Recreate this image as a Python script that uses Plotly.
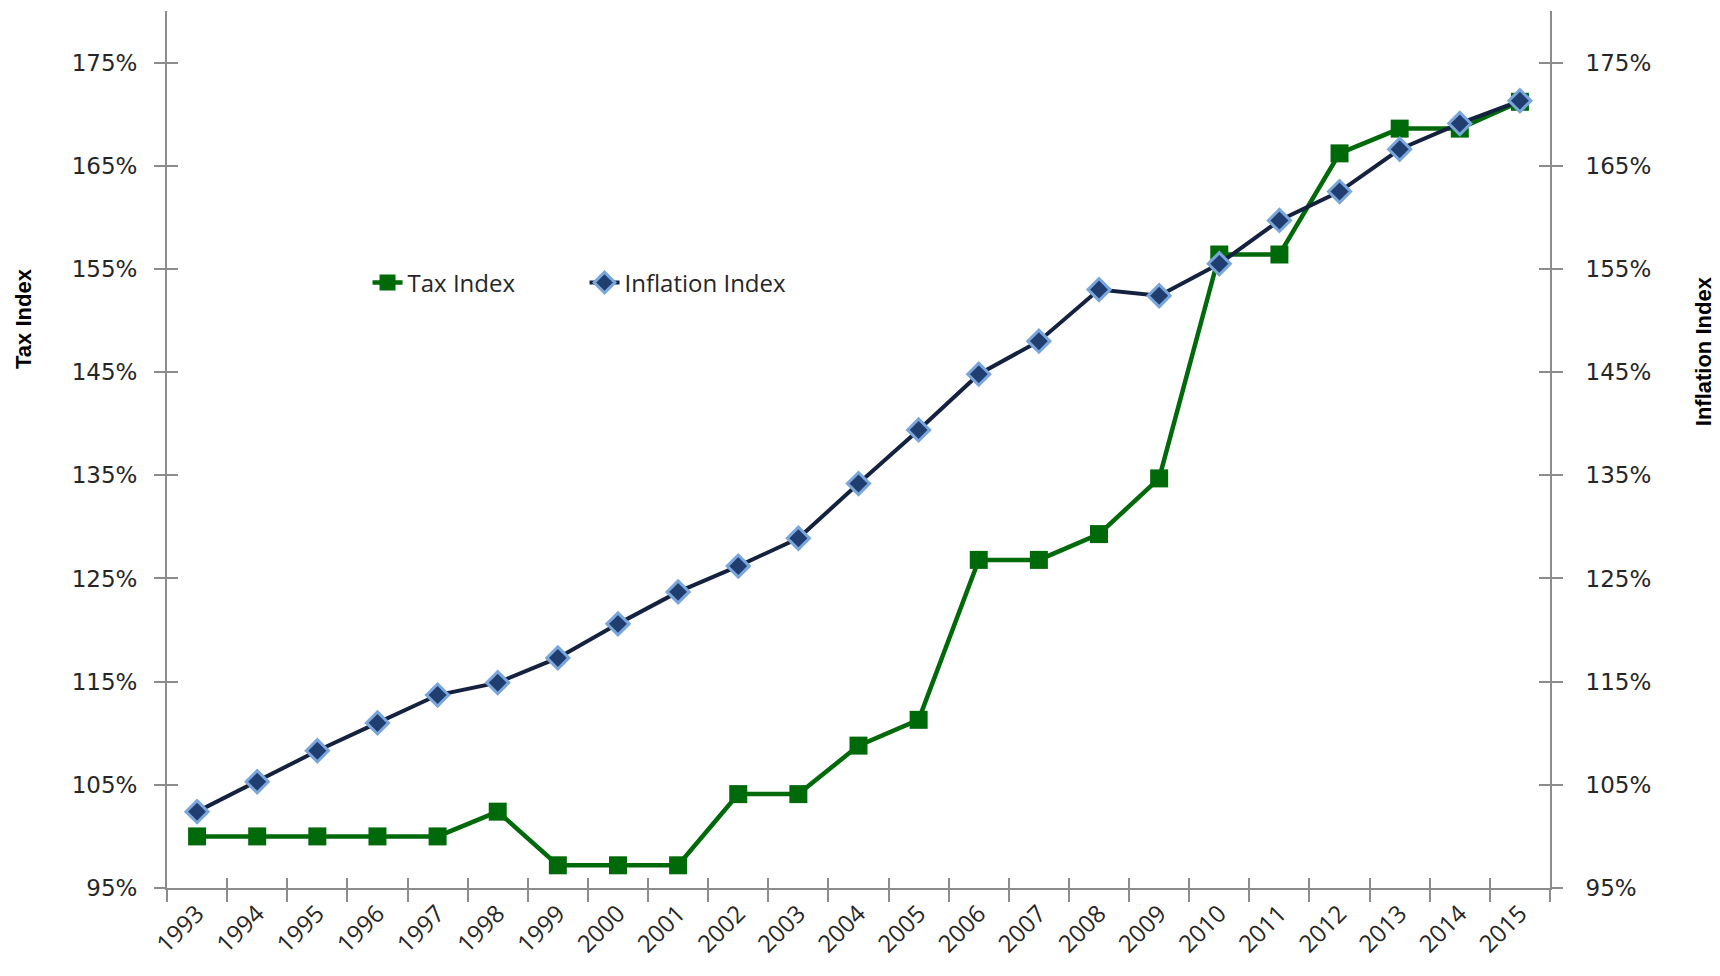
import plotly.graph_objects as go

# Index values (percent of 1992 base) by year
years = [str(y) for y in range(1993, 2016)]
tax_index = [100.0, 100.0, 100.0, 100.0, 100.0, 102.4, 97.2, 97.2, 97.2, 104.1,
             104.1, 108.8, 111.3, 126.8, 126.8, 129.3, 134.7, 156.4, 156.4, 166.2,
             168.6, 168.6, 171.2]
inflation_index = [102.4, 105.3, 108.3, 111.0, 113.7, 114.9, 117.3, 120.6, 123.7, 126.2,
                   128.9, 134.2, 139.4, 144.8, 148.0, 153.0, 152.4, 155.5, 159.7, 162.5,
                   166.6, 169.1, 171.3]
y_ticks = [95, 105, 115, 125, 135, 145, 155, 165, 175]
y_tick_labels = ["95%", "105%", "115%", "125%", "135%", "145%", "155%", "165%", "175%"]
y_range = [95, 180]

GREEN = "#006a0a"
NAVY = "#15223f"
AXIS_GREY = "#8c8c8c"
TEXT = "#262626"

fig = go.Figure()

fig.add_trace(go.Scatter(
    x=years, y=tax_index, name="Tax Index", mode="lines+markers",
    line=dict(color=GREEN, width=4.5),
    marker=dict(symbol="square", size=18, color=GREEN),
))
fig.add_trace(go.Scatter(
    x=years, y=inflation_index, name="Inflation Index", mode="lines+markers",
    yaxis="y2",
    line=dict(color=NAVY, width=4),
    marker=dict(symbol="diamond", size=17, color="#203f70",
                line=dict(color="#7aa6dc", width=3)),
))

# empty helper traces so the inner tick-mark axes get drawn
fig.add_trace(go.Scatter(x=[], y=[], xaxis="x2", yaxis="y3", showlegend=False,
                         hoverinfo="skip"))
fig.add_trace(go.Scatter(x=[], y=[], xaxis="x2", yaxis="y4", showlegend=False,
                         hoverinfo="skip"))

ytick_font = dict(family="DejaVu Sans, Verdana, sans-serif", size=23, color=TEXT)

common_y = dict(range=y_range, tickmode="array", tickvals=y_ticks,
                ticktext=y_tick_labels, showgrid=False,
                zeroline=False, tickcolor=AXIS_GREY, tickwidth=1.5)

fig.update_layout(
    width=1720, height=976,
    margin=dict(l=167, r=170, t=11, b=88),
    plot_bgcolor="white", paper_bgcolor="white",
    showlegend=True,
    legend=dict(orientation="h", x=0.145, y=0.69, xanchor="left", yanchor="middle",
                font=dict(family="Open Sans, sans-serif", size=24, color=TEXT),
                bgcolor="rgba(0,0,0,0)", entrywidth=172, entrywidthmode="pixels"),
    xaxis=dict(type="category", categoryorder="array", categoryarray=years,
               range=[-0.5, len(years) - 0.5], tickson="boundaries",
               ticks="outside", ticklen=12, tickwidth=1.5, tickcolor=AXIS_GREY,
               showline=True, linecolor=AXIS_GREY, linewidth=2,
               showgrid=False, zeroline=False, tickangle=-45,
               tickfont=dict(family="Open Sans, sans-serif", size=24, color=TEXT)),
    xaxis2=dict(overlaying="x", anchor="y", range=[-0.5, len(years) - 0.5],
                tick0=-0.5, dtick=1, ticks="inside", ticklen=10, tickwidth=1.5,
                tickcolor=AXIS_GREY, showticklabels=False, showline=False,
                showgrid=False, zeroline=False),
    yaxis=dict(**common_y, side="left", ticks="outside", ticklen=11,
               showline=True, linecolor=AXIS_GREY, linewidth=2,
               tickfont=ytick_font, ticklabelstandoff=12),
    yaxis2=dict(**common_y, side="right", overlaying="y", anchor="x",
                ticks="outside", ticklen=11,
                showline=True, linecolor=AXIS_GREY, linewidth=2,
                tickfont=ytick_font, ticklabelstandoff=18),
    yaxis3=dict(**common_y, side="left", overlaying="y", anchor="x2",
                ticks="inside", ticklen=11, showticklabels=False, showline=False),
    yaxis4=dict(**common_y, side="right", overlaying="y", anchor="x2",
                ticks="inside", ticklen=11, showticklabels=False, showline=False),
)

title_font = dict(family="Liberation Sans Narrow, Arial Narrow, sans-serif",
                  size=22, color="#000000")
fig.add_annotation(text="<b>Tax Index</b>", xref="paper", yref="paper",
                   x=-0.1034, y=0.65, textangle=-90, showarrow=False,
                   font=title_font, xanchor="center", yanchor="middle")
fig.add_annotation(text="<b>Inflation Index</b>", xref="paper", yref="paper",
                   x=1.1106, y=0.612, textangle=-90, showarrow=False,
                   font=title_font, xanchor="center", yanchor="middle")

fig.write_html("out.html")
